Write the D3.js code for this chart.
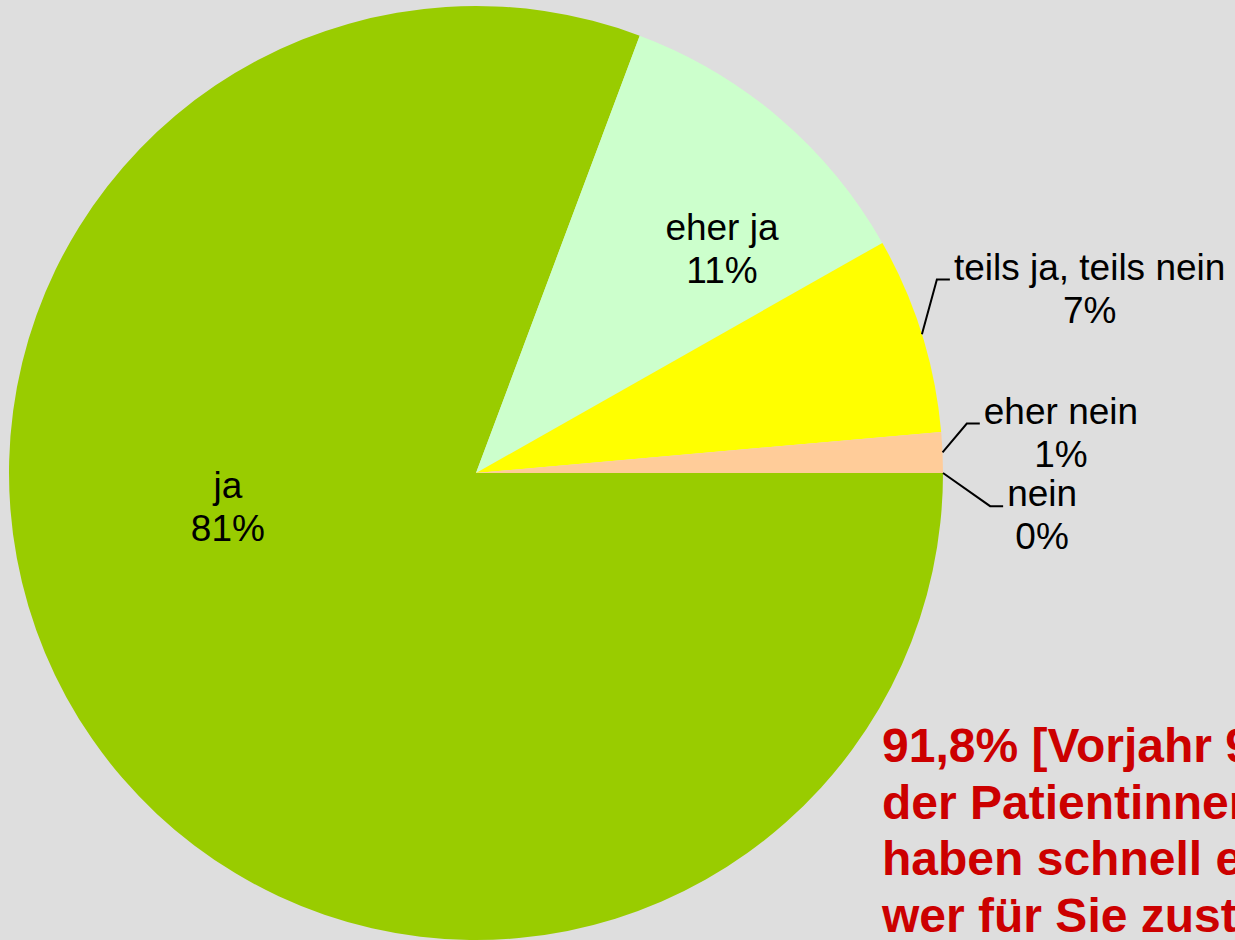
<!DOCTYPE html>
<html>
<head>
<meta charset="utf-8">
<script src="https://cdn.jsdelivr.net/npm/d3@7"></script>
<style>
  body { margin: 0; background: #dedede; overflow: hidden; }
  svg { display: block; }
  text { font-family: "Liberation Sans", Arial, sans-serif; }
</style>
</head>
<body>
<svg></svg>
<script>
// chart data
const categories = ["ja", "eher ja", "teils ja, teils nein", "eher nein", "nein"];
const values = [80.7, 11.1, 6.8, 1.4, 0];
const colors = ["#99cc00", "#ccffcc", "#ffff00", "#ffcc99", "#ff9966"];
const noteLines = ["91,8% [Vorjahr 9", "der Patientinnen", "haben schnell erfahren,", "wer für Sie zuständig ist."];

// dimensions
const w = 1235;
const h = 940;
const cx = 476;
const cy = 473;
const R = 467;

// label layout (angle in degrees clockwise from top, radius as fraction of R)
const labelLayout = [
  {inside: true, angle: 264.2, r: 0.534},
  {inside: true, angle: 46.55, r: 0.7255},
  {inside: false, angle: 67.8, r: 1.096},
  {inside: false, angle: 84.4, r: 1.084},
  {inside: false, angle: 93.6, r: 1.131}
];

let svg = d3.select("svg").attr("width", w).attr("height", h);

let polar = (deg, rf) => {
  let a = deg * Math.PI / 180;
  return [cx + rf * R * Math.sin(a), cy - rf * R * Math.cos(a)];
};

let data = categories.map((c, i) => ({name: c, value: values[i], color: colors[i], layout: labelLayout[i]}));

let pie = d3.pie()
  .sort(null)
  .value(d => d.value)
  .startAngle(Math.PI / 2)
  .endAngle(Math.PI / 2 + 2 * Math.PI);

let arc = d3.arc().innerRadius(0).outerRadius(R);
let arcs = pie(data);

let g = svg.append("g").attr("transform", "translate(" + cx + "," + cy + ")");
g.selectAll("path")
  .data(arcs)
  .enter()
  .append("path")
  .attr("d", arc)
  .attr("fill", d => d.data.color);

let pct = d => Math.round(d.value) + "%";
const fs = 37;
const lineGap = 43;

arcs.forEach(a => {
  let lay = a.data.layout;
  let p = polar(lay.angle, lay.r);
  if (lay.inside) {
    let t = svg.append("text")
      .attr("text-anchor", "middle")
      .attr("font-size", fs)
      .attr("fill", "#000");
    t.append("tspan").attr("x", p[0]).attr("y", p[1]).text(a.data.name);
    t.append("tspan").attr("x", p[0]).attr("y", p[1] + lineGap).text(pct(a.data));
  } else {
    // leader line from slice edge at mid angle
    let mid = (a.startAngle + a.endAngle) / 2 * 180 / Math.PI;
    let s = polar(mid, 1);
    let bend = [p[0] - 13, p[1]];
    svg.append("polyline")
      .attr("points", [s, bend, p].map(q => q.join(",")).join(" "))
      .attr("fill", "none")
      .attr("stroke", "#000")
      .attr("stroke-width", 2);
    let t1 = svg.append("text")
      .attr("x", p[0] + 4)
      .attr("y", p[1])
      .attr("font-size", fs)
      .attr("fill", "#000")
      .text(a.data.name);
    let tw = t1.node().getComputedTextLength();
    svg.append("text")
      .attr("x", p[0] + 4 + tw / 2)
      .attr("y", p[1] + lineGap)
      .attr("text-anchor", "middle")
      .attr("font-size", fs)
      .attr("fill", "#000")
      .text(pct(a.data));
  }
});

// red note, clipped by the window edge as in the original
let note = svg.append("text")
  .attr("font-size", 48)
  .attr("font-weight", "bold")
  .attr("fill", "#cc0000");
noteLines.forEach((l, i) => {
  note.append("tspan").attr("x", 882).attr("y", 762 + i * 56.5).text(l);
});
</script>
</body>
</html>
